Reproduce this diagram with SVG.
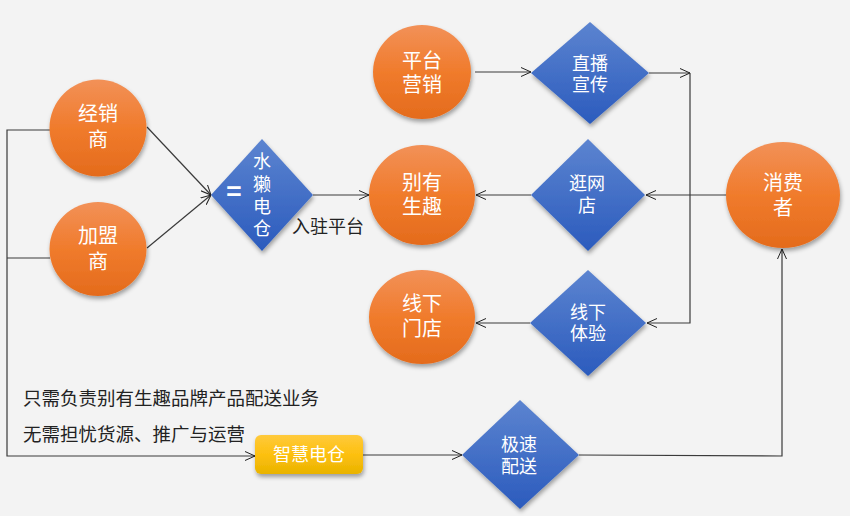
<svg xmlns="http://www.w3.org/2000/svg" width="850" height="516" viewBox="0 0 850 516">
<defs>
<linearGradient id="gO" x1="0" y1="0" x2="0" y2="1"><stop offset="0" stop-color="#f29158"/><stop offset="0.5" stop-color="#f07b2c"/><stop offset="1" stop-color="#e46b1c"/></linearGradient>
<linearGradient id="gB" x1="0" y1="0" x2="0" y2="1"><stop offset="0" stop-color="#5c84d0"/><stop offset="1" stop-color="#2b5bbd"/></linearGradient>
<linearGradient id="gY" x1="0" y1="0" x2="0" y2="1"><stop offset="0" stop-color="#ffca3c"/><stop offset="0.5" stop-color="#fdc00f"/><stop offset="1" stop-color="#e9b300"/></linearGradient>
<filter id="sh" x="-20%" y="-20%" width="140%" height="150%"><feDropShadow dx="1" dy="3" stdDeviation="2" flood-color="#000" flood-opacity="0.35"/></filter>
<marker id="ar" viewBox="0 0 10 10" refX="10" refY="5" markerWidth="10" markerHeight="10" markerUnits="userSpaceOnUse" orient="auto"><path d="M0,0.5 L10,5 L0,9.5" fill="none" stroke="#222" stroke-width="1"/></marker>
<style>
.c{fill:url(#gO);filter:url(#sh)}
.d{fill:url(#gB);filter:url(#sh)}
.y{fill:url(#gY);filter:url(#sh)}
.t{font-family:"Noto Sans CJK SC","Noto Sans",sans-serif;fill:#fff;text-anchor:middle}
.t20{font-size:20px}
.t18{font-size:18px}
.k{font-family:"Noto Sans CJK SC","Noto Sans",sans-serif;fill:#222;font-size:18.5px}
.ln{fill:none;stroke:#3a3a3a;stroke-width:1.2}
</style>
</defs>
<rect width="850" height="516" fill="#f3f3f3"/>
<g id="connectors">
<line class="ln" x1="147" y1="127" x2="211" y2="195" marker-end="url(#ar)"/>
<line class="ln" x1="147" y1="248" x2="211" y2="195" marker-end="url(#ar)"/>
<line class="ln" x1="313" y1="195" x2="369" y2="195" marker-end="url(#ar)"/>
<line class="ln" x1="475" y1="72" x2="531" y2="72" marker-end="url(#ar)"/>
<line class="ln" x1="649" y1="73" x2="690" y2="73" marker-end="url(#ar)"/>
<polyline class="ln" points="690,73 690,323 647,323" marker-end="url(#ar)"/>
<line class="ln" x1="726" y1="195" x2="646" y2="195" marker-end="url(#ar)"/>
<line class="ln" x1="531" y1="195" x2="476" y2="195" marker-end="url(#ar)"/>
<line class="ln" x1="530" y1="323" x2="476" y2="323" marker-end="url(#ar)"/>
<polyline class="ln" points="50,130 7,130 7,456 255,456" marker-end="url(#ar)"/>
<line class="ln" x1="50" y1="258" x2="7" y2="258"/>
<line class="ln" x1="363" y1="455" x2="462" y2="455" marker-end="url(#ar)"/>
<polyline class="ln" points="579,455 782,456 782,249" marker-end="url(#ar)"/>
</g>
<g id="jingxiaoshang"><ellipse class="c" cx="98" cy="128" rx="48.5" ry="48.5"/><text class="t t20" x="98" y="121">经销<tspan x="98" dy="26">商</tspan></text></g>
<g id="jiamengshang"><ellipse class="c" cx="98" cy="249" rx="48.5" ry="47"/><text class="t t20" x="98" y="243">加盟<tspan x="98" dy="26">商</tspan></text></g>
<g id="shuita"><polygon class="d" points="262,139 313,195 262,251 211,195"/><text class="t" x="234" y="201" font-size="26" font-weight="bold">=</text><text class="t t18" x="262" y="168">水<tspan x="262" dy="22.5">獭</tspan><tspan x="262" dy="22">电</tspan><tspan x="262" dy="22">仓</tspan></text></g>
<g id="ruzhu-label"><text class="k" x="292" y="233" style="font-size:18px">入驻平台</text></g>
<g id="pingtai"><ellipse class="c" cx="422" cy="72" rx="49" ry="47"/><text class="t t20" x="422" y="68">平台<tspan x="422" dy="24">营销</tspan></text></g>
<g id="zhibo"><polygon class="d" points="590,22 649,73 590,124 531,73"/><text class="t t18" x="590" y="69.5">直播<tspan x="590" dy="21">宣传</tspan></text></g>
<g id="bieyou"><ellipse class="c" cx="422" cy="195" rx="53" ry="50"/><text class="t t20" x="422" y="190">别有<tspan x="422" dy="24">生趣</tspan></text></g>
<g id="guang"><polygon class="d" points="588,139 645,195 588,251 531,195"/><text class="t t18" x="587" y="189.5">逛网<tspan x="587" dy="22">店</tspan></text></g>
<g id="xiaofei"><ellipse class="c" cx="783" cy="195" rx="57" ry="53"/><text class="t t20" x="783" y="190">消费<tspan x="783" dy="25">者</tspan></text></g>
<g id="xianxia-md"><ellipse class="c" cx="422" cy="317" rx="53" ry="47"/><text class="t t20" x="422" y="311">线下<tspan x="422" dy="25">门店</tspan></text></g>
<g id="xianxia-ty"><polygon class="d" points="588,270 646,323 588,376 530,323"/><text class="t t18" x="588" y="318.5">线下<tspan x="588" dy="21">体验</tspan></text></g>
<g id="note"><text class="k" x="23" y="405">只需负责别有生趣品牌产品配送业务</text><text class="k" x="23" y="441">无需担忧货源、推广与运营</text></g>
<g id="zhihui"><rect class="y" x="255" y="435" width="108" height="39" rx="6"/><text class="t t18" x="309" y="460.5">智慧电仓</text></g>
<g id="jisu"><polygon class="d" points="520,400 579,455 520,509 462,455"/><text class="t t18" x="519" y="450.5">极速<tspan x="519" dy="22">配送</tspan></text></g>
</svg>
